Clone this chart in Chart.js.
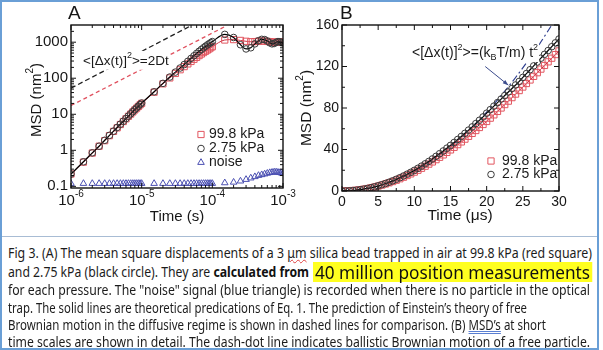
<!DOCTYPE html>
<html>
<head>
<meta charset="utf-8">
<script src="https://cdn.jsdelivr.net/npm/chart.js@4.4.1/dist/chart.umd.min.js"></script>
<style>
  html, body { margin: 0; padding: 0; background: #fff; }
  #wrap { position: relative; width: 603px; height: 350px; overflow: hidden; background: #fff; }
  canvas { position: absolute; top: 0; }
  #cA { left: 0; }
  #cB { left: 290px; }
  #frame { position: absolute; left: 0; top: 0; width: 595px; height: 346px; border: 2px solid #6a9fd6; pointer-events: none; }
  #capTop { position: absolute; left: 2px; top: 236px; width: 596px; border-top: 1px solid #a8bcd4; }
  .seg { position: absolute; white-space: nowrap; font-family: "Noto Sans", sans-serif; font-size: 14px;
         line-height: 18px; color: #1c1c1c; transform-origin: 0 50%; }
  .seg b { font-weight: 700; color: #111; }
  .hl { background: #ffff20; font-size: 18px; line-height: 20px; color: #111; padding: 0 2px; }
  .sq { text-decoration: underline wavy #e04040; text-decoration-thickness: 1px; }
  .dbl { text-decoration: underline double #5a7fd2; }
</style>
</head>
<body>
<div id="wrap">
  <canvas id="cA" width="300" height="232"></canvas>
  <canvas id="cB" width="313" height="232"></canvas>
  <div id="capTop"></div>
  <div class="seg" data-w="584" style="left:8px;top:244px">Fig 3. (A) The mean square displacements of a 3 <span class="sq">μm</span> silica bead trapped in air at 99.8 kPa (red square)</div>
  <div class="seg" data-w="301" style="left:8px;top:263px">and 2.75 kPa (black circle). They are <b>calculated from</b></div>
  <div class="seg hl" data-w="279" style="left:313px;top:262px">40 million position measurements</div>
  <div class="seg" data-w="582" style="left:8px;top:281px">for each pressure. The "noise" signal (blue triangle) is recorded when there is no particle in the optical</div>
  <div class="seg" data-w="519" style="left:8px;top:298.5px">trap. The solid lines are theoretical predications of Eq. 1. The prediction of Einstein’s theory of free</div>
  <div class="seg" data-w="538" style="left:8px;top:316px">Brownian motion in the diffusive regime is shown in dashed lines for comparison. (B) <span class="dbl">MSD’s</span> at short</div>
  <div class="seg" data-w="582" style="left:8px;top:333px">time scales are shown in detail. The dash-dot line indicates ballistic Brownian motion of a free particle.</div>
  <div id="frame"></div>
</div>
<script>
// ---- Panel A: log-log MSD vs time (s) ----
const timeA = [
  1e-6, 1.5e-6, 2e-6, 2.5e-6, 3e-6, 3.5e-6, 4e-6, 4.5e-6, 5e-6, 5.5e-6, 6e-6, 6.5e-6, 7e-6, 7.5e-6, 8e-6, 8.5e-6, 9e-6, 9.5e-6, 1e-5,
  1.5e-5, 2e-5, 2.5e-5, 3e-5, 3.5e-5, 4e-5, 4.5e-5, 5e-5, 5.5e-5, 6e-5, 6.5e-5, 7e-5, 7.5e-5, 8e-5, 8.5e-5, 9e-5, 9.5e-5, 1e-4,
  1.5e-4, 2e-4, 2.5e-4, 3e-4, 3.5e-4, 4e-4, 4.5e-4, 5e-4, 5.5e-4, 6e-4, 6.5e-4, 7e-4, 7.5e-4, 8e-4, 8.5e-4, 9e-4, 9.5e-4, 1e-3
];
const msdLowA = [   // 2.75 kPa, black circles
  0.22, 0.48, 0.85, 1.3, 1.9, 2.6, 3.4, 4.3, 5.3, 6.4, 7.6, 8.9, 10.3, 11.8, 13.4, 15.0, 16.8, 18.6, 20.5,
  42, 72, 108, 148, 192, 240, 295, 355, 420, 490, 560, 630, 700, 770, 840, 905, 970, 1040,
  1650, 1350, 850, 650, 700, 900, 1100, 1200, 1180, 1080, 960, 900, 920, 990, 1040, 1030, 990, 960
];
const msdHighA = [  // 99.8 kPa, red squares
  0.22, 0.47, 0.84, 1.3, 1.85, 2.55, 3.35, 4.2, 5.2, 6.3, 7.5, 8.8, 10.1, 11.6, 13.2, 14.8, 16.5, 18.3, 20.1,
  41, 70, 102, 136, 172, 210, 250, 292, 336, 380, 425, 470, 515, 560, 605, 650, 700, 750,
  1150, 1180, 1120, 1060, 1030, 1040, 1060, 1080, 1070, 1050, 1030, 1010, 1000, 1000, 1010, 1020, 1010, 1000
];
const noiseA = [
  0.12, 0.12, 0.12, 0.12, 0.12, 0.12, 0.12, 0.12, 0.12, 0.12, 0.12, 0.12, 0.12, 0.12, 0.12, 0.12, 0.12, 0.12, 0.12,
  0.12, 0.12, 0.12, 0.12, 0.12, 0.12, 0.12, 0.12, 0.12, 0.12, 0.12, 0.12, 0.12, 0.12, 0.12, 0.12, 0.12, 0.12,
  0.125, 0.13, 0.14, 0.155, 0.17, 0.185, 0.2, 0.21, 0.22, 0.23, 0.24, 0.245, 0.25, 0.25, 0.245, 0.24, 0.235, 0.225
];
// diffusive (2Dt) dashed lines
const diffTime = [1e-6, 4.7e-5];
const diffLow = [53, 2700];
const diffTimeHigh = [1e-6, 1.5e-4];
const diffHigh = [17.5, 2700];

const xTicksA = [1e-6, 1e-5, 1e-4, 1e-3];
const xExpA = ['-6', '-5', '-4', '-3'];
const yTicksA = [0.1, 1, 10, 100, 1000];
const yLabelsA = ['0.1', '1', '10', '100', '1000'];

// ---- Panel B: linear, short times (µs) ----
const timeB = [
  0, 0.5, 1, 1.5, 2, 2.5, 3, 3.5, 4, 4.5, 5, 5.5, 6, 6.5, 7, 7.5, 8, 8.5, 9, 9.5,
  10, 10.5, 11, 11.5, 12, 12.5, 13, 13.5, 14, 14.5, 15, 15.5, 16, 16.5, 17, 17.5, 18, 18.5, 19, 19.5,
  20, 20.5, 21, 21.5, 22, 22.5, 23, 23.5, 24, 24.5, 25, 25.5, 26, 26.5, 27, 27.5, 28, 28.5, 29, 29.5, 30
];
const msdLowB = [
  0, 0.05, 0.2, 0.45, 0.8, 1.25, 1.8, 2.45, 3.2, 4.05, 5.0, 6.05, 7.2, 8.45, 9.8, 11.25, 12.8, 14.45, 16.2, 18.0,
  19.9, 21.9, 24.0, 26.2, 28.5, 30.9, 33.4, 36.0, 38.6, 41.3, 44.0, 46.8, 49.7, 52.6, 55.6, 58.7, 61.8, 65.0, 68.2, 71.4,
  75.0, 78.4, 81.8, 85.2, 88.6, 92.0, 95.4, 98.8, 102.2, 105.6, 109.5, 113.2, 116.9, 120.6, 124.3, 128.0, 131.7, 135.4, 139.1, 142.8, 146.5
];
const msdHighB = [
  0, 0.05, 0.2, 0.45, 0.8, 1.2, 1.75, 2.35, 3.05, 3.85, 4.75, 5.7, 6.75, 7.9, 9.1, 10.4, 11.8, 13.3, 14.9, 16.5,
  18.2, 20.0, 21.9, 23.9, 25.9, 28.0, 30.2, 32.5, 34.8, 37.2, 39.6, 42.1, 44.7, 47.3, 50.0, 52.7, 55.5, 58.3, 61.2, 64.1,
  67.0, 70.2, 73.4, 76.7, 80.0, 83.3, 86.6, 90.0, 93.4, 96.8, 100.2, 103.6, 107.0, 110.5, 114.0, 117.5, 121.0, 124.5, 128.0, 131.5, 135.0
];
// ballistic (kT/m) t^2 dash-dot line
const ballTime = [0, 3, 6, 9, 12, 15, 18, 21, 24, 27, 29];
const ballMsd = [0, 1.7, 6.8, 15.4, 27.4, 42.8, 61.6, 83.8, 109.4, 138.5, 160];

const xTicksB = [0, 5, 10, 15, 20, 25, 30];
const xMinorB = [2.5, 7.5, 12.5, 17.5, 22.5, 27.5];
const yTicksB = [0, 40, 80, 120, 160];
const yMinorB = [20, 60, 100, 140];

const FONT = '"Liberation Sans", Arial, sans-serif';
const pts = (xs, ys) => xs.map((x, i) => ({ x, y: ys[i] }));

function logMinor(lo, hi) {
  const out = [];
  for (let d = Math.floor(Math.log10(lo)); d <= Math.ceil(Math.log10(hi)); d++) {
    for (let k = 2; k <= 9; k++) {
      const v = k * Math.pow(10, d);
      if (v > lo && v < hi) out.push(v);
    }
  }
  return out;
}

// text with super/subscripts; returns total width
function drawRich(ctx, parts, x, y, size, align, bg) {
  const fontFor = m => `${m === 'n' ? size : Math.round(size * 0.66)}px ${FONT}`;
  const widths = parts.map(([t, m]) => { ctx.font = fontFor(m); return ctx.measureText(t).width; });
  const total = widths.reduce((s, w) => s + w, 0);
  let cx = align === 'center' ? x - total / 2 : align === 'right' ? x - total : x;
  if (bg) {
    const fs = ctx.fillStyle;
    ctx.fillStyle = bg;
    ctx.fillRect(cx - 1, y - size * 0.75, total + 2, size * 1.4);
    ctx.fillStyle = fs;
  }
  ctx.textAlign = 'left';
  ctx.textBaseline = 'middle';
  parts.forEach(([t, m], i) => {
    ctx.font = fontFor(m);
    const dy = m === 'sup' ? -size * 0.42 : m === 'sub' ? size * 0.32 : 0;
    ctx.fillText(t, cx, y + dy);
    cx += widths[i];
  });
  return total;
}

// inward ticks on all four sides, frame, labels, titles, legend, notes
function axesPlugin(cfg) {
  return {
    id: 'axesBox',
    afterDraw(chart) {
      const { ctx, chartArea: a } = chart;
      const xs = chart.scales.x, ys = chart.scales.y;
      ctx.save();

      ctx.fillStyle = '#1a1a1a';
      drawRich(ctx, cfg.note, cfg.notePos[0], cfg.notePos[1], cfg.noteSize, 'left', '#fff');

      ctx.strokeStyle = '#111';
      ctx.lineWidth = 1;
      ctx.beginPath();
      const xt = (v, len) => {
        const p = xs.getPixelForValue(v);
        ctx.moveTo(p, a.bottom); ctx.lineTo(p, a.bottom - len);
        ctx.moveTo(p, a.top); ctx.lineTo(p, a.top + len);
      };
      const yt = (v, len) => {
        const p = ys.getPixelForValue(v);
        ctx.moveTo(a.left, p); ctx.lineTo(a.left + len, p);
        ctx.moveTo(a.right, p); ctx.lineTo(a.right - len, p);
      };
      cfg.xMajor.forEach(v => xt(v, 5));
      cfg.xMinor.forEach(v => xt(v, 3));
      cfg.yMajor.forEach(v => yt(v, 5));
      cfg.yMinor.forEach(v => yt(v, 3));
      ctx.stroke();
      ctx.lineWidth = 1.4;
      ctx.strokeRect(a.left, a.top, a.right - a.left, a.bottom - a.top);

      ctx.fillStyle = '#161616';
      ctx.font = `${cfg.tickSize}px ${FONT}`;
      ctx.textAlign = 'right';
      ctx.textBaseline = 'middle';
      cfg.yMajor.forEach((v, i) => ctx.fillText(cfg.yLabels[i], a.left - 3, ys.getPixelForValue(v)));
      cfg.xMajor.forEach((v, i) => drawRich(ctx, cfg.xLabels[i], xs.getPixelForValue(v), a.bottom + cfg.xGap, cfg.tickSize, 'center'));

      drawRich(ctx, cfg.xTitle, cfg.xTitlePos[0], cfg.xTitlePos[1], cfg.titleSize, 'center');
      ctx.save();
      ctx.translate(cfg.yTitlePos[0], cfg.yTitlePos[1]);
      ctx.rotate(-Math.PI / 2);
      drawRich(ctx, cfg.yTitle, 0, 0, cfg.titleSize, 'center');
      ctx.restore();

      ctx.font = `19px ${FONT}`;
      ctx.textAlign = 'left';
      ctx.fillText(cfg.panel, cfg.panelPos[0], cfg.panelPos[1]);

      // legend
      cfg.legend.rows.forEach((di, r) => {
        const ds = chart.data.datasets[di];
        const yy = cfg.legend.y + r * cfg.legend.dy;
        ctx.strokeStyle = ds.pointBorderColor;
        ctx.fillStyle = 'rgba(0,0,0,0)';
        ctx.lineWidth = 1;
        Chart.helpers.drawPoint(ctx, { pointStyle: ds.pointStyle, radius: ds.pointRadius, rotation: 0, borderWidth: 1 }, cfg.legend.x, yy);
        ctx.fillStyle = '#1a1a1a';
        ctx.font = `14px ${FONT}`;
        ctx.textAlign = 'left';
        ctx.textBaseline = 'middle';
        ctx.fillText(ds.label, cfg.legend.x + cfg.legend.gap, yy);
      });

      if (cfg.arrow) {
        const [t0, m0, t1, m1] = cfg.arrow;
        const x0 = xs.getPixelForValue(t0), y0 = ys.getPixelForValue(m0);
        const x1 = xs.getPixelForValue(t1), y1 = ys.getPixelForValue(m1);
        const ang = Math.atan2(y1 - y0, x1 - x0);
        ctx.strokeStyle = '#3b4b8c';
        ctx.fillStyle = '#3b4b8c';
        ctx.lineWidth = 1;
        ctx.beginPath(); ctx.moveTo(x0, y0); ctx.lineTo(x1, y1); ctx.stroke();
        ctx.beginPath();
        ctx.moveTo(x1, y1);
        ctx.lineTo(x1 - 6 * Math.cos(ang - 0.35), y1 - 6 * Math.sin(ang - 0.35));
        ctx.lineTo(x1 - 6 * Math.cos(ang + 0.35), y1 - 6 * Math.sin(ang + 0.35));
        ctx.closePath(); ctx.fill();
      }
      ctx.restore();
    }
  };
}

const marker = (style, r, color) => ({
  pointStyle: style, pointRadius: r, pointBorderColor: color,
  pointBackgroundColor: 'rgba(0,0,0,0)', pointBorderWidth: 1
});
const noAnim = { responsive: false, animation: false, events: [] };

new Chart(document.getElementById('cA'), {
  type: 'line',
  data: {
    datasets: [
      Object.assign({ label: '2.75 kPa', data: pts(timeA, msdLowA), borderColor: '#000', borderWidth: 1.2,
        cubicInterpolationMode: 'monotone' }, marker('circle', 3.3, '#3a3a3a')),
      Object.assign({ label: '99.8 kPa', data: pts(timeA, msdHighA), borderColor: '#c93444', borderWidth: 1,
        cubicInterpolationMode: 'monotone' }, marker('rect', 4.4, '#e2555f')),
      Object.assign({ label: 'noise', data: pts(timeA, noiseA), showLine: false }, marker('triangle', 3.8, '#4b50b2')),
      { label: 'diff low', data: pts(diffTime, diffLow), borderColor: '#1e1e1e', borderWidth: 1.3, borderDash: [5, 3], pointRadius: 0 },
      { label: 'diff high', data: pts(diffTimeHigh, diffHigh), borderColor: '#e0505e', borderWidth: 1.3, borderDash: [4, 3], pointRadius: 0 }
    ]
  },
  options: Object.assign({}, noAnim, {
    layout: { padding: { left: 71, top: 25, right: 17, bottom: 44 } },
    scales: {
      x: { type: 'logarithmic', min: 1e-6, max: 1e-3, display: false },
      y: { type: 'logarithmic', min: 0.09, max: 3000, display: false }
    },
    plugins: { legend: { display: false }, tooltip: { enabled: false } }
  }),
  plugins: [axesPlugin({
    xMajor: xTicksA, xMinor: logMinor(1e-6, 1e-3), yMajor: yTicksA, yMinor: logMinor(0.09, 3000),
    yLabels: yLabelsA, xLabels: xExpA.map(e => [['10', 'n'], [e, 'sup']]),
    tickSize: 15, xGap: 13, titleSize: 15,
    xTitle: [['Time (s)', 'n']], xTitlePos: [177, 217],
    yTitle: [['MSD (nm', 'n'], ['2', 'sup'], [')', 'n']], yTitlePos: [37, 100],
    panel: 'A', panelPos: [68, 14],
    note: [['<[Δx(t)]', 'n'], ['2', 'sup'], ['>=2Dt', 'n']], notePos: [83, 61], noteSize: 13.5,
    legend: { x: 201, y: 134.5, dy: 14, gap: 8, rows: [1, 0, 2] }
  })]
});

new Chart(document.getElementById('cB'), {
  type: 'line',
  data: {
    datasets: [
      Object.assign({ label: '2.75 kPa', data: pts(timeB, msdLowB), borderColor: '#000', borderWidth: 1.2,
        cubicInterpolationMode: 'monotone' }, marker('circle', 3.3, '#3a3a3a')),
      Object.assign({ label: '99.8 kPa', data: pts(timeB, msdHighB), borderColor: '#c93444', borderWidth: 1,
        cubicInterpolationMode: 'monotone' }, marker('rect', 4.4, '#e2555f')),
      { label: 'ballistic', data: pts(ballTime, ballMsd), borderColor: '#2f3f8f', borderWidth: 1.2,
        borderDash: [7, 3, 2, 3], pointRadius: 0, cubicInterpolationMode: 'monotone' }
    ]
  },
  options: Object.assign({}, noAnim, {
    layout: { padding: { left: 52, top: 25, right: 44, bottom: 41 } },
    scales: {
      x: { type: 'linear', min: 0, max: 30, display: false },
      y: { type: 'linear', min: 0, max: 160, display: false }
    },
    plugins: { legend: { display: false }, tooltip: { enabled: false } }
  }),
  plugins: [axesPlugin({
    xMajor: xTicksB, xMinor: xMinorB, yMajor: yTicksB, yMinor: yMinorB,
    yLabels: yTicksB.map(String), xLabels: xTicksB.map(v => [[String(v), 'n']]),
    tickSize: 14, xGap: 11, titleSize: 15.5,
    xTitle: [['Time (μs)', 'n']], xTitlePos: [170, 216],
    yTitle: [['MSD (nm', 'n'], ['2', 'sup'], [')', 'n']], yTitlePos: [17, 108],
    panel: 'B', panelPos: [50, 14],
    note: [['<[Δx(t)]', 'n'], ['2', 'sup'], ['>=(k', 'n'], ['B', 'sub'], ['T/m) t', 'n'], ['2', 'sup']],
    notePos: [122, 53], noteSize: 14,
    legend: { x: 201, y: 161, dy: 13.5, gap: 11, rows: [1, 0] },
    arrow: [19.8, 120, 23, 102]
  })]
});

// fit each caption segment to the width it has in the figure
document.fonts.ready.then(() => {
  document.querySelectorAll('.seg').forEach(el => {
    const nat = el.getBoundingClientRect().width;
    el.style.transform = `scaleX(${(+el.dataset.w / nat).toFixed(4)})`;
  });
});
</script>
</body>
</html>
